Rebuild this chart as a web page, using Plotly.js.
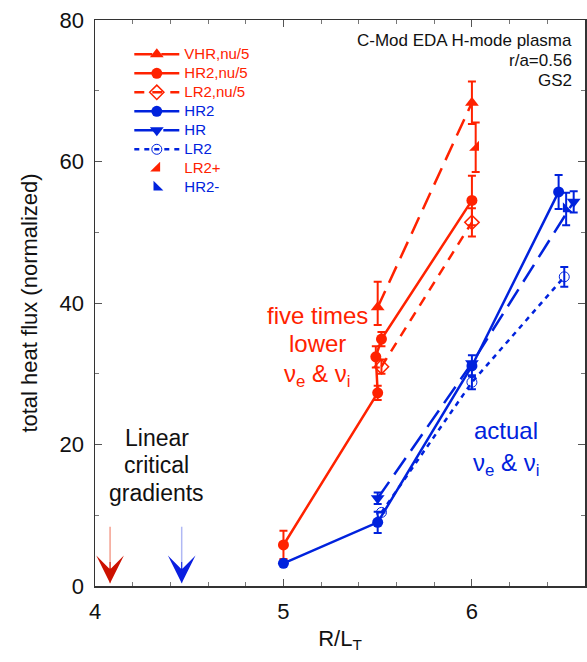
<!DOCTYPE html>
<html>
<head>
<meta charset="utf-8">
<script src="https://cdn.plot.ly/plotly-3.0.1.min.js"></script>
<style>html,body{margin:0;padding:0;background:#fff;}#chart{width:587px;height:662px;}</style>
</head>
<body>
<div id="chart"></div>
<script>
// ---- data ----
const RED = '#ff2200';
const BLUE = '#0022dd';

const vhrNuX = [5.5, 6.0];
const vhrNuY = [39.4, 68.3];
const vhrNuErrP = [3.6, 3.0];
const vhrNuErrM = [2.5, 3.0];

const hr2NuX = [5.0, 5.5, 5.49, 5.52, 6.0];
const hr2NuY = [5.8, 27.3, 32.4, 34.9, 54.5];
const hr2NuErr = [2.0, 1.0, 1.5, 1.0, 3.5];

const lr2NuX = [5.52, 6.0];
const lr2NuY = [31.0, 51.4];
const lr2NuErr = [1.0, 2.0];

const hr2X = [5.0, 5.5, 6.0, 6.46];
const hr2Y = [3.2, 9.0, 31.1, 55.7];
const hr2Err = [0, 1.5, 1.5, 2.4];

const hrX = [5.5, 6.0, 6.54];
const hrY = [12.4, 31.5, 54.3];
const hrErr = [0.8, 0, 1.5];

const lr2X = [5.52, 6.0, 6.49];
const lr2Y = [10.4, 28.8, 43.7];
const lr2Err = [0, 1.0, 1.4];

const lr2pX = [6.02];
const lr2pY = [62.0];
const lr2pErr = [3.5];

const hr2mX = [6.5];
const hr2mY = [53.3];
const hr2mErr = [2.3];

const critGrad = [4.08, 4.46];       // linear critical gradients (R/L_T)
const critHeadColors = ['#cc1100', '#0a1ee0'];
const critLineColors = ['#f4a090', '#b0b8f4'];

const xTicks = [4, 5, 6];
const yTicks = [0, 20, 40, 60, 80];

const infoLines = ['C-Mod EDA H-mode plasma', 'r/a=0.56', 'GS2'];
const critLines = ['Linear', 'critical', 'gradients'];
const lowLines = ['five times', 'lower', 'ν<sub>e</sub> &amp; ν<sub>i</sub>'];
const actLines = ['actual', 'ν<sub>e</sub> &amp; ν<sub>i</sub>'];

const FONT = 'Liberation Sans, Arial, Helvetica, sans-serif';

function errs(plus, minus, color) {
  return {type: 'data', symmetric: minus === undefined, array: plus,
          arrayminus: minus, color: color, thickness: 2, width: 4};
}
function lbl(t, c) { return '<span style="color:' + c + ';font-size:15px">' + t + '</span>'; }

const traces = [
  {x: vhrNuX, y: vhrNuY, name: lbl('VHR,nu/5', RED), mode: 'lines+markers',
   line: {color: RED, width: 2.5, dash: '18px,9px'},
   marker: {symbol: 'triangle-up', size: 12, color: RED},
   error_y: errs(vhrNuErrP, vhrNuErrM, RED)},
  {x: hr2NuX, y: hr2NuY, name: lbl('HR2,nu/5', RED), mode: 'lines+markers',
   line: {color: RED, width: 2.5},
   marker: {symbol: 'circle', size: 11, color: RED},
   error_y: errs(hr2NuErr, undefined, RED)},
  {x: lr2NuX, y: lr2NuY, name: lbl('LR2,nu/5', RED), mode: 'lines+markers',
   line: {color: RED, width: 2.5, dash: '10px,8px'},
   marker: {symbol: 'diamond-open', size: 11, color: RED, line: {width: 1.5, color: RED}},
   error_y: errs(lr2NuErr, undefined, RED)},
  {x: hr2X, y: hr2Y, name: lbl('HR2', BLUE), mode: 'lines+markers',
   line: {color: BLUE, width: 2.5},
   marker: {symbol: 'circle', size: 11, color: BLUE},
   error_y: errs(hr2Err, undefined, BLUE)},
  {x: hrX, y: hrY, name: lbl('HR', BLUE), mode: 'lines+markers',
   line: {color: BLUE, width: 2.5, dash: '20px,9px'},
   marker: {symbol: 'triangle-down', size: 12, color: BLUE},
   error_y: errs(hrErr, undefined, BLUE)},
  {x: lr2X, y: lr2Y, name: lbl('LR2', BLUE), mode: 'lines+markers',
   line: {color: BLUE, width: 2.5, dash: '5px,5px'},
   marker: {symbol: 'circle-open', size: 10, color: BLUE, line: {width: 1, color: BLUE}},
   error_y: errs(lr2Err, undefined, BLUE)},
  {x: lr2pX, y: lr2pY, name: lbl('LR2+', RED), mode: 'markers',
   marker: {symbol: 'triangle-se', size: 11, color: RED},
   error_y: errs(lr2pErr, undefined, RED)},
  {x: hr2mX, y: hr2mY, name: lbl('HR2-', BLUE), mode: 'markers',
   marker: {symbol: 'triangle-sw', size: 11, color: BLUE},
   error_y: errs(hr2mErr, undefined, BLUE)}
];

const annotations = [];
critGrad.forEach(function (g, i) {
  annotations.push({x: g, y: 0.4, ax: g, ay: 8.6, xref: 'x', yref: 'y', axref: 'x', ayref: 'y',
    text: '', showarrow: true, arrowhead: 0, arrowwidth: 1.5, arrowcolor: critLineColors[i]});
  annotations.push({x: g, y: 0.4, ax: g, ay: 3.6, xref: 'x', yref: 'y', axref: 'x', ayref: 'y',
    text: '', showarrow: true, arrowhead: 3, arrowsize: 4.6, arrowwidth: 1, arrowcolor: critHeadColors[i]});
});
// top-right info block, one annotation per line
infoLines.forEach(function (t, i) {
  annotations.push({x: 0.9755, y: 0.9629 - i * 0.0353, xref: 'paper', yref: 'paper',
    xanchor: 'right', yanchor: 'middle', showarrow: false, borderpad: 0, text: t,
    font: {family: FONT, size: 17, color: '#111'}});
});
critLines.forEach(function (t, i) {
  annotations.push({x: 4.328, y: 20.9 - i * 3.85, xref: 'x', yref: 'y',
    xanchor: 'center', yanchor: 'middle', showarrow: false, text: t,
    font: {family: FONT, size: 23, color: '#111'}});
});
lowLines.forEach(function (t, i) {
  annotations.push({x: 5.18, y: 38.2 - i * 3.95 - (i === 2 ? 0.6 : 0), xref: 'x', yref: 'y',
    xanchor: 'center', yanchor: 'middle', showarrow: false, text: t,
    font: {family: FONT, size: 24, color: RED}});
});
actLines.forEach(function (t, i) {
  annotations.push({x: 6.18, y: 22.0 - i * 4.2 - (i === 1 ? 0.6 : 0), xref: 'x', yref: 'y',
    xanchor: 'center', yanchor: 'middle', showarrow: false, text: t,
    font: {family: FONT, size: 24, color: BLUE}});
});

const axisCommon = {
  showgrid: false, zeroline: false, showline: true, linecolor: '#333', linewidth: 1.5,
  mirror: 'ticks', ticks: 'inside', ticklen: 7, tickcolor: '#555', tickwidth: 1,
  tickfont: {family: FONT, size: 22, color: '#111'}
};

const layout = {
  width: 587, height: 662,
  margin: {l: 95, r: 2, t: 20, b: 76},
  paper_bgcolor: '#fff', plot_bgcolor: '#fff',
  font: {family: FONT, color: '#111'},
  showlegend: true,
  legend: {x: 0.07, y: 0.965, xanchor: 'left', yanchor: 'top', bgcolor: 'rgba(0,0,0,0)',
           font: {family: FONT, size: 11}, itemwidth: 45, tracegroupgap: 0},
  xaxis: Object.assign({}, axisCommon, {
    range: [4, 6.6], tickvals: xTicks, ticktext: xTicks.map(String),
    minor: {dtick: 0.2, tick0: 4, ticks: 'inside', ticklen: 4, tickcolor: '#777'},
    ticklabelstandoff: 5,
    title: {text: 'R/L<sub>T</sub>', font: {family: FONT, size: 22, color: '#111'}, standoff: 7}
  }),
  yaxis: Object.assign({}, axisCommon, {
    range: [0, 80], tickvals: yTicks, ticktext: yTicks.map(String),
    minor: {dtick: 10, tick0: 0, ticks: 'inside', ticklen: 4, tickcolor: '#777'},
    ticklabelstandoff: 5,
    title: {text: 'total heat flux (normalized)', font: {family: FONT, size: 22, color: '#111'}, standoff: 16}
  }),
  annotations: annotations
};

Plotly.newPlot('chart', traces, layout, {displayModeBar: false, staticPlot: true});
</script>
</body>
</html>
